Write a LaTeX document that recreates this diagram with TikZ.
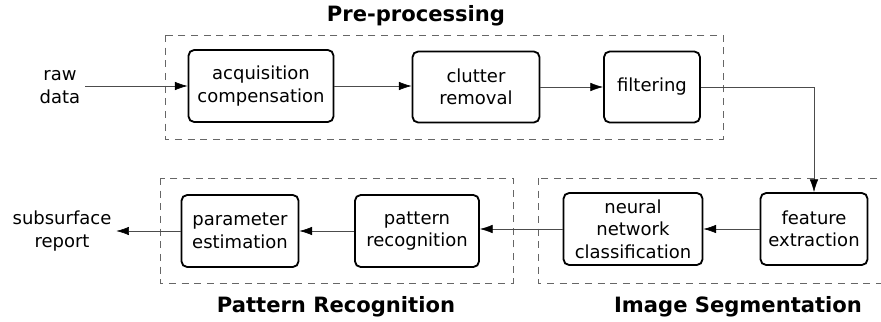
\documentclass[tikz,border=0pt]{standalone}
\usepackage{fontspec}
\setmainfont{DejaVu Sans}
\usepackage{tikz}
\usetikzlibrary{arrows.meta,positioning,calc}

\begin{document}
\begin{tikzpicture}[
          x=0.025cm, y=-0.025cm,
          stage/.style={rectangle, draw, line width=1.3pt, rounded corners=4pt, align=center, inner sep=1pt, font=\fontsize{12.8}{16}\selectfont},
          group/.style={draw=black!60, dash pattern=on 5pt off 4pt, line width=0.4pt},
          flow/.style={draw=black!70, line width=0.4pt, -{Latex[length=9pt,width=6pt,black]}},
          plain/.style={align=center, font=\fontsize{12.8}{16}\selectfont},
          title/.style={font=\fontsize{15}{17}\selectfont\bfseries}
        ]
          \useasboundingbox (0,0) rectangle (881,322);

          % dashed groups
          \draw[group] (165,35) rectangle (723,139);
          \draw[group] (160,178) rectangle (513,283);
          \draw[group] (538,178) rectangle (900,283);
          \node[title] (pretitle) at (416,16) {Pre-processing};
          \node[title] (prtitle) at (336,307) {Pattern Recognition};
          \node[title] (istitle) at (738,307) {Image Segmentation};

          % top row
          \node[plain] (raw) at (60,87) {raw\\data};
          \node[stage, minimum width=145*0.025cm, minimum height=72*0.025cm] (acq) at (261,86) {acquisition\\compensation};
          \node[stage, minimum width=127*0.025cm, minimum height=71*0.025cm] (clut) at (476,87) {clutter\\removal};
          \node[stage, minimum width=96*0.025cm, minimum height=71*0.025cm] (filt) at (652,87) {filtering};

          % bottom row
          \node[stage, minimum width=107*0.025cm, minimum height=72*0.025cm] (feat) at (814,229) {feature\\extraction};
          \node[stage, minimum width=139*0.025cm, minimum height=72*0.025cm] (neur) at (633,229) {neural\\network\\classification};
          \node[stage, minimum width=124*0.025cm, minimum height=72*0.025cm] (patt) at (417,231) {pattern\\recognition};
          \node[stage, minimum width=117*0.025cm, minimum height=72*0.025cm] (param) at (240,231) {parameter\\estimation};
          \node[plain] (report) at (62,231) {subsurface\\report};

          \draw[flow] (raw.east |- acq.west) -- (acq.west);
          \draw[flow] (acq.east) -- (acq.east -| clut.west);
          \draw[flow] (clut.east) -- (clut.east -| filt.west);
          \draw[flow] (filt.east) -| (feat.north);
          \draw[flow] (feat.west) -- (feat.west -| neur.east);
          \draw[flow] (neur.west) -- (neur.west -| patt.east);
          \draw[flow] (patt.west) -- (param.east);
          \draw[flow] (param.west) -- (report.east);

        \end{tikzpicture}
\end{document}
